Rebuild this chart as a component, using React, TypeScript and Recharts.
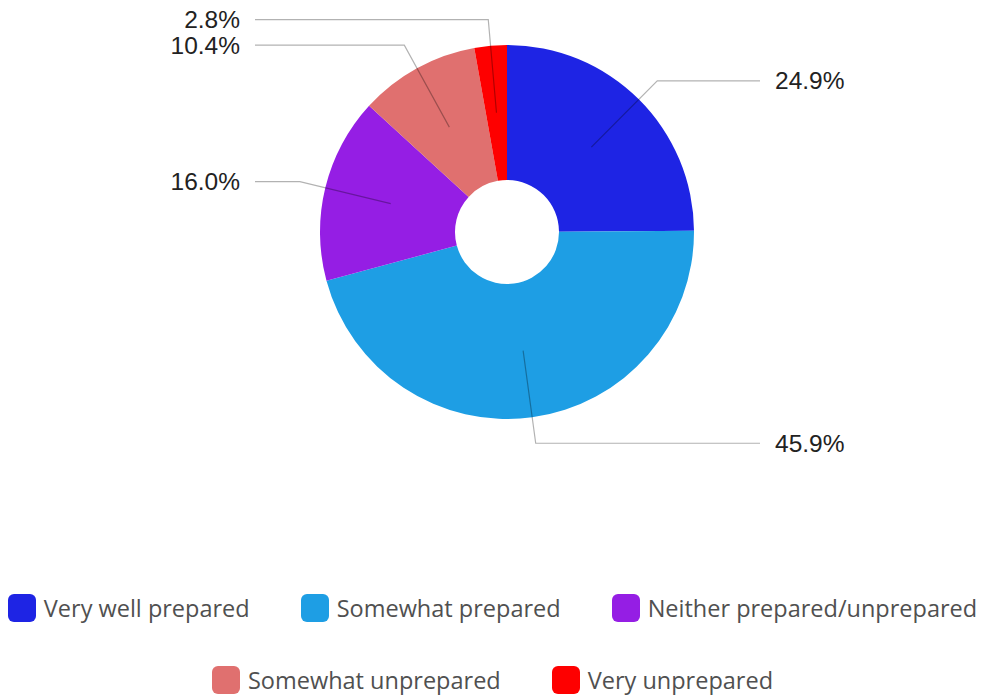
import { PieChart, Pie, Cell, Legend } from 'recharts';

const categories = [
  'Very well prepared',
  'Somewhat prepared',
  'Neither prepared/unprepared',
  'Somewhat unprepared',
  'Very unprepared'
];
const shares = [24.9, 45.9, 16.0, 10.4, 2.8];
const COLORS = ['#1e24e4', '#1e9ee4', '#951ee4', '#e0706f', '#fe0000'];

const data = categories.map((name, i) => ({ name, value: shares[i] }));

const RADIAN = Math.PI / 180;

function renderLabel(props: any) {
  const { cx, cy, midAngle, outerRadius, value } = props;
  const cos = Math.cos(-midAngle * RADIAN);
  const sin = Math.sin(-midAngle * RADIAN);
  const r1 = outerRadius * 0.64;
  const r2 = outerRadius * 1.14;
  const sx = cx + r1 * cos;
  const sy = cy + r1 * sin;
  const ex = cx + r2 * cos;
  const ey = cy + r2 * sin;
  const right = cos >= 0;
  const lx = right ? cx + 253 : cx - 252;
  const tx = right ? lx + 15 : lx - 15;
  return (
    <g>
      <polyline
        points={`${sx},${sy} ${ex},${ey} ${lx},${ey}`}
        fill="none"
        stroke="#000"
        strokeOpacity={0.3}
        strokeWidth={1.2}
      />
      <text
        x={tx}
        y={ey}
        textAnchor={right ? 'start' : 'end'}
        dominantBaseline="central"
        fill="#222"
        fontSize={24.5}
        fontFamily='"Liberation Sans", Arial, sans-serif'
      >
        {value.toFixed(1)}%
      </text>
    </g>
  );
}

function LegendRows() {
  const items = categories.map((name, i) => ({ name, color: COLORS[i] }));
  const rows = [items.slice(0, 3), items.slice(3)];
  return (
    <div style={{ fontFamily: '"Open Sans", sans-serif', fontSize: 23.5, color: '#505050', paddingLeft: 4 }}>
      {rows.map((row, r) => (
        <div
          key={r}
          style={{ display: 'flex', justifyContent: 'center', gap: 51, height: 72, alignItems: 'center' }}
        >
          {row.map((entry) => (
            <div key={entry.name} style={{ display: 'flex', alignItems: 'center' }}>
              <div
                style={{
                  width: 28,
                  height: 28,
                  borderRadius: 6,
                  background: entry.color,
                  marginRight: 8
                }}
              />
              <span>{entry.name}</span>
            </div>
          ))}
        </div>
      ))}
    </div>
  );
}

export default function App() {
  return (
    <div style={{ position: 'absolute', left: 0, top: 0, width: 981, height: 698, background: '#fff' }}>
      <PieChart width={981} height={698} margin={{ top: 0, right: 0, bottom: 0, left: 0 }}>
        <Pie
          data={data}
          dataKey="value"
          nameKey="name"
          cx={507}
          cy={232}
          innerRadius={52}
          outerRadius={187}
          startAngle={90}
          endAngle={-270}
          stroke="none"
          label={renderLabel}
          labelLine={false}
          isAnimationActive={false}
        >
          {data.map((entry, index) => (
            <Cell key={`cell-${index}`} fill={COLORS[index]} />
          ))}
        </Pie>
        <Legend
          content={<LegendRows />}
          wrapperStyle={{ position: 'absolute', top: 572, left: 0, width: 981 }}
        />
      </PieChart>
    </div>
  );
}
